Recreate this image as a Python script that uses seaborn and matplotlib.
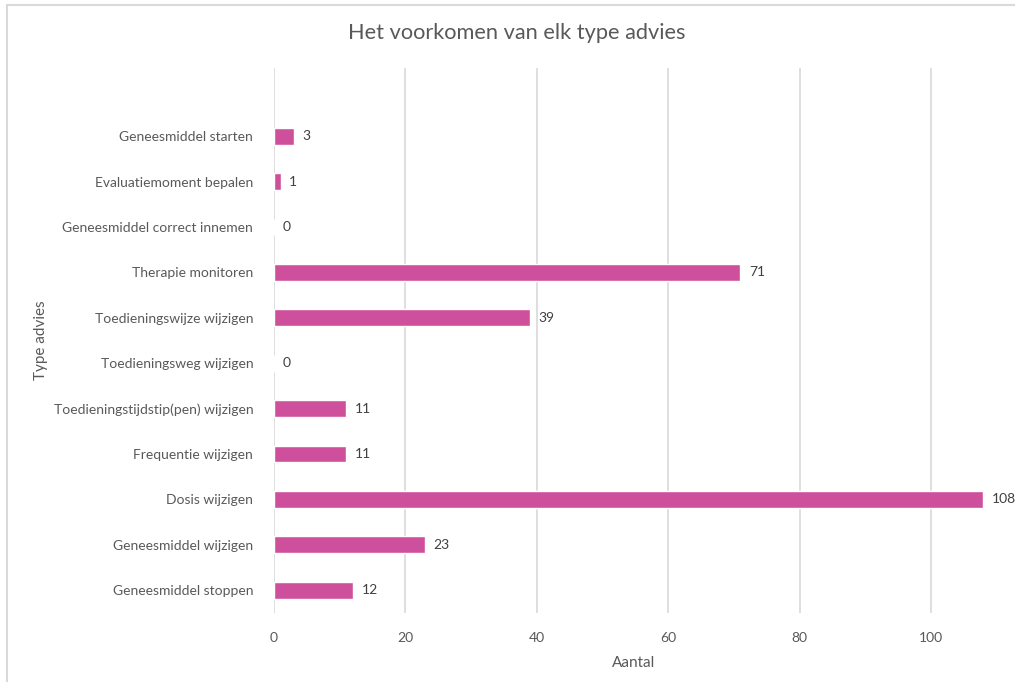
import matplotlib
matplotlib.use("Agg")
import matplotlib.pyplot as plt
import seaborn as sns
import pandas as pd
from matplotlib.patches import Rectangle

categories = [
    "Geneesmiddel starten",
    "Evaluatiemoment bepalen",
    "Geneesmiddel correct innemen",
    "Therapie monitoren",
    "Toedieningswijze wijzigen",
    "Toedieningsweg wijzigen",
    "Toedieningstijdstip(pen) wijzigen",
    "Frequentie wijzigen",
    "Dosis wijzigen",
    "Geneesmiddel wijzigen",
    "Geneesmiddel stoppen",
]
counts = [3, 1, 0, 71, 39, 0, 11, 11, 108, 23, 12]
x_ticks = [0, 20, 40, 60, 80, 100]

df = pd.DataFrame({"Type advies": categories, "Aantal": counts})

sns.set_theme(style="white")
plt.rcParams["font.family"] = ["Lato", "DejaVu Sans"]

text_color = "#595959"
grid_color = "#D9D9D9"
bar_color = "#CE4F9C"

W, H = 1015, 682
fig = plt.figure(figsize=(W / 100, H / 100), dpi=100)
fig.patch.set_facecolor("white")

# chart frame (left and top edges visible)
fig.add_artist(Rectangle((7 / W, -0.05), 1.2, 1 - 5 / H + 0.05,
                         transform=fig.transFigure, fill=False,
                         edgecolor="#D9D9D9", linewidth=1.5))

left, right = 274 / W, 994 / W
top, bottom = 1 - 68 / H, 1 - 613 / H
ax = fig.add_axes([left, bottom, right - left, top - bottom])

sns.barplot(data=df, y="Type advies", x="Aantal", orient="h",
            color=bar_color, width=0.37, ax=ax, saturation=1)

ax.set_xlim(0, 109.6)
ax.set_ylim(len(categories) - 0.5, -1.5)
ax.set_xticks(x_ticks)
for xv in x_ticks:
    ax.axvline(xv, color=grid_color, linewidth=1.2, zorder=0)

for s in ax.spines.values():
    s.set_visible(False)

ax.tick_params(axis="both", length=0, colors=text_color, labelsize=10)
ax.tick_params(axis="y", pad=15)
ax.tick_params(axis="x", pad=14)
for lbl in ax.get_yticklabels() + ax.get_xticklabels():
    lbl.set_color(text_color)

for i, v in enumerate(counts):
    ax.text(v + 1.3, i, str(v), va="center", ha="left",
            fontsize=10, color="#404040", clip_on=False)

ax.set_xlabel("Aantal", fontsize=11, color=text_color, labelpad=8)
ax.set_ylabel("Type advies", fontsize=11, color=text_color)
ax.yaxis.set_label_coords((48 - 274) / 720, 0.5)

fig.text(517 / W, 1 - 33 / H, "Het voorkomen van elk type advies",
         ha="center", va="center", fontsize=15.7, color=text_color)

fig.savefig("out.png", dpi=100, facecolor="white")
